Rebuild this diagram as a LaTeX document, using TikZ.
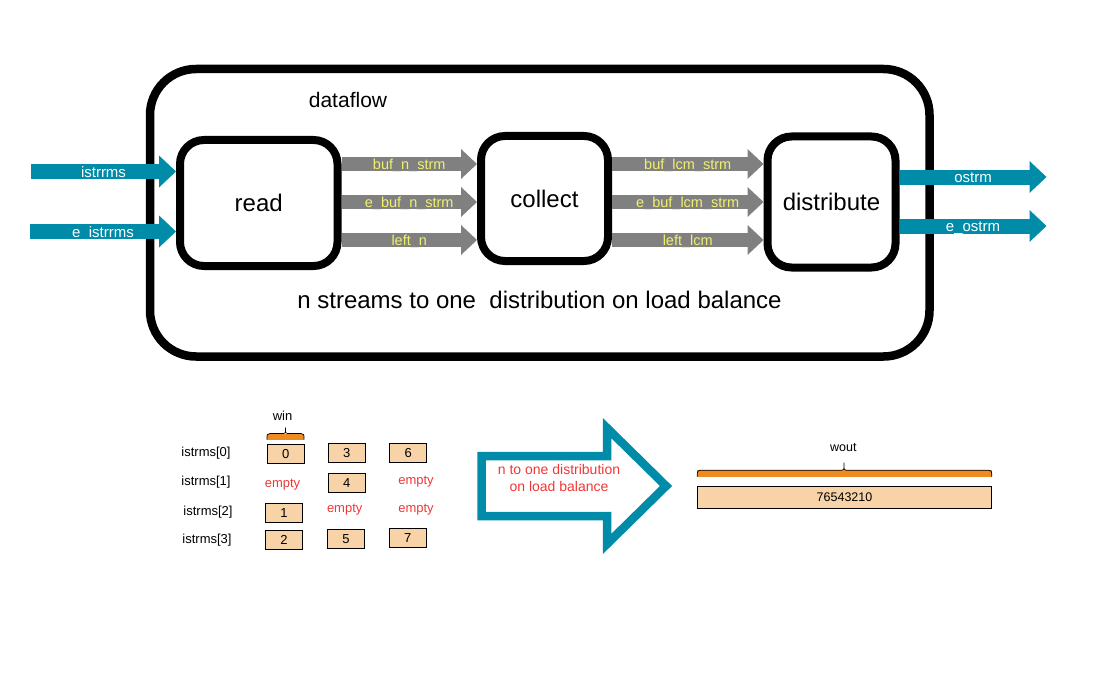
\documentclass[tikz,border=0pt]{standalone}
\usepackage{fontspec}
\setmainfont{Liberation Sans}
\usepackage{tikz}
\usetikzlibrary{arrows.meta}
\definecolor{sTeal}{RGB}{0,140,168}
\definecolor{sGray}{RGB}{128,128,128}
\definecolor{sYellow}{RGB}{240,240,110}
\definecolor{sOrange}{RGB}{238,138,34}
\definecolor{sPeach}{RGB}{248,211,168}
\definecolor{sRed}{RGB}{240,55,55}

\begin{document}
\begin{tikzpicture}[x=1pt, y=-1pt,
		big/.style={inner sep=0pt, font=\fontsize{24}{28}\selectfont},
		kernel/.style={draw, line width=8pt, rounded corners=24pt, inner sep=0pt, big},
		strm/.style={draw=sGray, line width=14pt, -{Triangle[width=30pt, length=16pt, line width=0pt]}},
		port/.style={draw=sTeal, line width=15pt, -{Triangle[width=32pt, length=17pt, line width=0pt]}},
		strmlbl/.style={inner sep=0pt, anchor=base, yshift=-5.5pt, text=sYellow, font=\fontsize{14.5}{16}\selectfont},
		portlbl/.style={inner sep=0pt, anchor=base, yshift=-5.5pt, text=white, font=\fontsize{15}{17}\selectfont},
		small/.style={inner sep=0pt, font=\fontsize{13}{15}\selectfont},
		empty/.style={small, text=sRed},
		cell/.style={draw, line width=0.8pt, fill=sPeach, minimum width=37pt, minimum height=19pt, inner sep=0pt, small}
	]
	\useasboundingbox (0,0) rectangle (1100,674);

	% dataflow region
	\node[draw, line width=8.5pt, rounded corners=46pt, minimum width=779.5pt, minimum height=287.5pt] (dflow) at (539.75,212.75) {};
	\node[inner sep=0pt, font=\fontsize{21}{25}\selectfont] (dflowlbl) at (348,100) {dataflow};
	\node[big] (nstrm) at (539.5,300) {n streams to one\ \ distribution on load balance};

	\node[kernel, minimum width=157.5pt, minimum height=126pt] (read) at (258.75,203) {read};
	\node[kernel, minimum width=127pt, minimum height=125pt] (collect) at (544.5,198.5) {collect};
	\node[kernel, minimum width=128pt, minimum height=131pt] (distribute) at (831.5,202) {distribute};

	\coordinate (in1) at (31,171.5);
	\coordinate (in2) at (30,231.5);
	\coordinate (out1) at (1046.5,177);
	\coordinate (out2) at (1046.5,226);

	\draw[port] (in1) -- (read.west |- in1) node[midway, portlbl] {istrrms};
	\draw[port] (in2) -- (read.west |- in2) node[midway, portlbl] {e\_istrrms};

	\draw[strm] (read.east |- 0,164) -- (collect.west |- 0,164) node[midway, strmlbl] {buf\_n\_strm};
	\draw[strm] (read.east |- 0,202) -- (collect.west |- 0,202) node[midway, strmlbl] {e\_buf\_n\_strm};
	\draw[strm] (read.east |- 0,240) -- (collect.west |- 0,240) node[midway, strmlbl] {left\_n};

	\draw[strm] (collect.east |- 0,164) -- (distribute.west |- 0,164) node[midway, strmlbl] {buf\_lcm\_strm};
	\draw[strm] (collect.east |- 0,202) -- (distribute.west |- 0,202) node[midway, strmlbl] {e\_buf\_lcm\_strm};
	\draw[strm] (collect.east |- 0,240) -- (distribute.west |- 0,240) node[midway, strmlbl] {left\_lcm};

	\draw[port] (distribute.east |- out1) -- (out1) node[midway, portlbl] {ostrm};
	\draw[port] (distribute.east |- out2) -- (out2) node[midway, portlbl] {e\_ostrm};

	% input streams
	\node[small] (win) at (282.5,415.5) {win};
	\fill[sOrange] (267,433.5) rectangle (304,439.5);
	\draw[line width=0.7pt] (267,439.5) .. controls (267,434) .. (270,433.5) -- (283.5,433.5)
		.. controls (285.5,433.5) .. (285.5,427.5) .. controls (285.5,433.5) .. (287.5,433.5)
		-- (301,433.5) .. controls (304,434) .. (304,439.5);

	\node[small] (l0) at (206,452.7) {istrms[0]};
	\node[small] (l1) at (206,481.7) {istrms[1]};
	\node[small] (l2) at (208,511.7) {istrms[2]};
	\node[small] (l3) at (207,540) {istrms[3]};

	\node[cell] (b0) at (285.8,453.8) {0};
	\node[cell] (b3) at (346.7,453) {3};
	\node[cell] (b6) at (408.3,452.8) {6};
	\node[empty] (e10) at (282.5,485) {empty};
	\node[cell] (b4) at (346.7,482.8) {4};
	\node[empty] (e12) at (416,481.7) {empty};
	\node[cell] (b1) at (284,512.8) {1};
	\node[empty] (e21) at (344.7,510) {empty};
	\node[empty] (e22) at (416,510) {empty};
	\node[cell] (b2) at (284,540) {2};
	\node[cell] (b5) at (346,539.2) {5};
	\node[cell] (b7) at (407.7,538.3) {7};

	% big arrow
	\draw[draw=sTeal, line width=8.5pt, line join=miter] (481.5,456) -- (607,456) -- (607,428) -- (666,486)
		-- (607,544) -- (607,516) -- (481.5,516) -- cycle;
	\node[align=center, inner sep=0pt, text=sRed, font=\fontsize{14}{17.7}\selectfont] (ntoone) at (559,478) {n to one distribution\\on load balance};

	% output stream
	\node[small, font=\fontsize{12.5}{15}\selectfont] (woutlbl) at (843.3,447.3) {wout};
	\fill[sOrange] (697.3,470.2) rectangle (991.7,476.7);
	\draw[line width=0.7pt] (697.3,476.7) .. controls (697.3,471) .. (700.5,470.2) -- (842,470.2)
		.. controls (844,470.2) .. (844,462.5) .. controls (844,470.2) .. (846,470.2)
		-- (988.5,470.2) .. controls (991.7,471) .. (991.7,476.7);
	\node[cell, minimum width=294.4pt, minimum height=21.6pt, font=\fontsize{12.5}{15}\selectfont] (wout) at (844.5,497.5) {76543210};
\end{tikzpicture}
\end{document}
